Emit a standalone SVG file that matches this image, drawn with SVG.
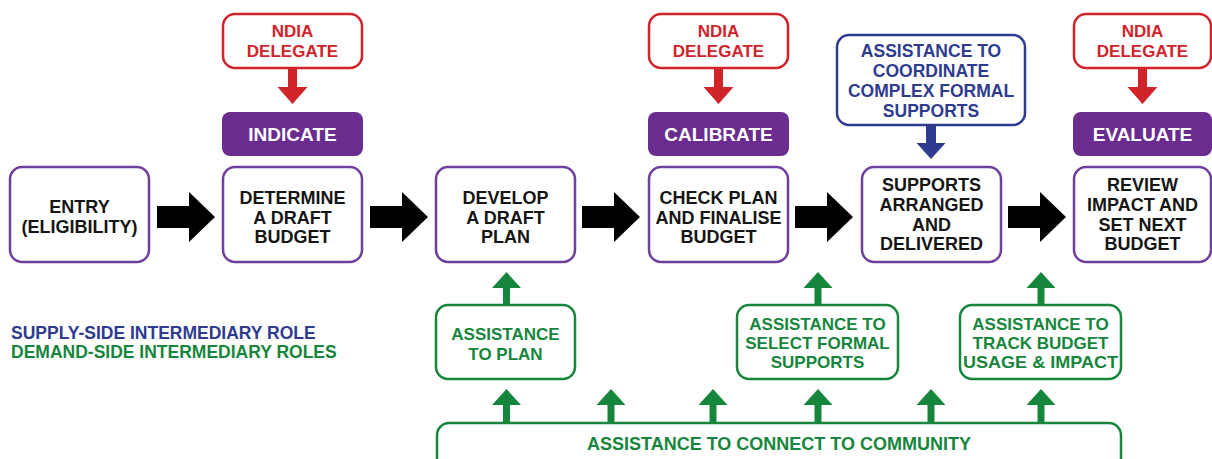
<svg xmlns="http://www.w3.org/2000/svg" width="1212" height="459" viewBox="0 0 1212 459">
<style>
text{font-family:"Liberation Sans",Arial,sans-serif;font-weight:bold;text-anchor:middle}
.step{fill:#fff;stroke:#6f3f9e;stroke-width:2.5}
.stept{fill:#151515;font-size:18px}
.ndia{fill:#fff;stroke:#d1232a;stroke-width:2.5}
.ndiat{fill:#d1232a;font-size:17px}
.phase{fill:#6a2d8f}
.phaset{fill:#fff;font-size:19px}
.sup{fill:#fff;stroke:#2e3b8f;stroke-width:2.5}
.supt{fill:#2e3b8f;font-size:17.5px}
.dem{fill:#fff;stroke:#16863c;stroke-width:2.5}
.demt{fill:#16863c;font-size:17px}
.blk{fill:#000}
.red{fill:#d1232a}
.blu{fill:#2e3b8f}
.grn{fill:#16863c}
.leg{text-anchor:start;font-size:17.5px}
</style>

<g id="legend">
<text class="leg" x="11" y="339" fill="#2e3b8f">SUPPLY-SIDE INTERMEDIARY ROLE</text>
<text class="leg" x="11" y="358" fill="#16863c">DEMAND-SIDE INTERMEDIARY ROLES</text>
</g>

<g id="ndia1"><rect class="ndia" x="223" y="14" width="139" height="54" rx="12"/>
<text class="ndiat" x="292.5" y="37">NDIA</text><text class="ndiat" x="292.5" y="57">DELEGATE</text></g>
<g id="ndia2"><rect class="ndia" x="649" y="14" width="139" height="54" rx="12"/>
<text class="ndiat" x="718.5" y="37">NDIA</text><text class="ndiat" x="718.5" y="57">DELEGATE</text></g>
<g id="ndia3"><rect class="ndia" x="1074" y="14" width="137" height="54" rx="12"/>
<text class="ndiat" x="1142.5" y="37">NDIA</text><text class="ndiat" x="1142.5" y="57">DELEGATE</text></g>

<g id="indicate"><rect class="phase" x="222" y="112" width="141" height="44" rx="8"/>
<text class="phaset" x="292.5" y="140.5">INDICATE</text></g>
<g id="calibrate"><rect class="phase" x="648" y="112" width="141" height="44" rx="8"/>
<text class="phaset" x="718.5" y="140.5">CALIBRATE</text></g>
<g id="evaluate"><rect class="phase" x="1073" y="112" width="139" height="44" rx="8"/>
<text class="phaset" x="1142.5" y="140.5">EVALUATE</text></g>

<g id="coordinate"><rect class="sup" x="837" y="35" width="188" height="90" rx="12"/>
<text class="supt" x="931" y="57">ASSISTANCE TO</text>
<text class="supt" x="931" y="77">COORDINATE</text>
<text class="supt" x="931" y="97">COMPLEX FORMAL</text>
<text class="supt" x="931" y="117">SUPPORTS</text></g>

<g id="entry"><rect class="step" x="10" y="167" width="139" height="95" rx="12"/>
<text class="stept" x="79.5" y="213">ENTRY</text>
<text class="stept" x="79.5" y="233">(ELIGIBILITY)</text></g>
<g id="determine"><rect class="step" x="223" y="167" width="139" height="95" rx="12"/>
<text class="stept" x="292.5" y="204">DETERMINE</text>
<text class="stept" x="292.5" y="224">A DRAFT</text>
<text class="stept" x="292.5" y="243">BUDGET</text></g>
<g id="develop"><rect class="step" x="436" y="167" width="139" height="95" rx="12"/>
<text class="stept" x="505.5" y="204">DEVELOP</text>
<text class="stept" x="505.5" y="224">A DRAFT</text>
<text class="stept" x="505.5" y="243">PLAN</text></g>
<g id="check"><rect class="step" x="649" y="167" width="139" height="95" rx="12"/>
<text class="stept" x="718.5" y="204">CHECK PLAN</text>
<text class="stept" x="718.5" y="224">AND FINALISE</text>
<text class="stept" x="718.5" y="243">BUDGET</text></g>
<g id="supports"><rect class="step" x="862" y="167" width="139" height="95" rx="12"/>
<text class="stept" x="931.5" y="191">SUPPORTS</text>
<text class="stept" x="931.5" y="211">ARRANGED</text>
<text class="stept" x="931.5" y="231">AND</text>
<text class="stept" x="931.5" y="250">DELIVERED</text></g>
<g id="review"><rect class="step" x="1074" y="167" width="137" height="95" rx="12"/>
<text class="stept" x="1142.5" y="191">REVIEW</text>
<text class="stept" x="1142.5" y="211">IMPACT AND</text>
<text class="stept" x="1142.5" y="231">SET NEXT</text>
<text class="stept" x="1142.5" y="250">BUDGET</text></g>

<g id="plan"><rect class="dem" x="436" y="305" width="139" height="74" rx="12"/>
<text class="demt" x="505.5" y="340">ASSISTANCE</text>
<text class="demt" x="505.5" y="360">TO PLAN</text></g>
<g id="select"><rect class="dem" x="737" y="305" width="161" height="74" rx="12"/>
<text class="demt" x="817.5" y="330">ASSISTANCE TO</text>
<text class="demt" x="817.5" y="349">SELECT FORMAL</text>
<text class="demt" x="817.5" y="368">SUPPORTS</text></g>
<g id="track"><rect class="dem" x="960" y="305" width="161" height="74" rx="12"/>
<text class="demt" x="1040.5" y="330">ASSISTANCE TO</text>
<text class="demt" x="1040.5" y="349">TRACK BUDGET</text>
<text class="demt" x="1040.5" y="368" textLength="155" lengthAdjust="spacingAndGlyphs">USAGE &amp; IMPACT</text></g>
<g id="community"><rect class="dem" x="437" y="423" width="684" height="62" rx="12"/>
<text class="demt" x="779" y="450" style="font-size:18px">ASSISTANCE TO CONNECT TO COMMUNITY</text></g>

<g id="connectors">
<path class="blk" d="M157,206H189V192L215,217L189,242V228H157Z"/>
<path class="blk" d="M370,206H402V192L428,217L402,242V228H370Z"/>
<path class="blk" d="M582,206H614V192L640,217L614,242V228H582Z"/>
<path class="blk" d="M795,206H827V192L853,217L827,242V228H795Z"/>
<path class="blk" d="M1008,206H1040V192L1066,217L1040,242V228H1008Z"/>
<path class="red" d="M288,68V87H277.5L292.5,104L307.5,87H297V68Z"/>
<path class="red" d="M714,68V87H703.5L718.5,104L733.5,87H723V68Z"/>
<path class="red" d="M1138,68V87H1127.5L1142.5,104L1157.5,87H1147V68Z"/>
<path class="blu" d="M926,125V143H916.5L931,159L945.5,143H936V125Z"/>
<path class="grn" d="M503,305V288H492L506.5,272L521,288H510V305Z"/>
<path class="grn" d="M814.5,305V288H803.5L818,272L832.5,288H821.5V305Z"/>
<path class="grn" d="M1037.5,305V288H1026.5L1041,272L1055.5,288H1044.5V305Z"/>
<path class="grn" d="M503,423V405H492L506.5,389L521,405H510V423Z"/>
<path class="grn" d="M607.5,423V405H596.5L611,389L625.5,405H614.5V423Z"/>
<path class="grn" d="M709.5,423V405H698.5L713,389L727.5,405H716.5V423Z"/>
<path class="grn" d="M814.5,423V405H803.5L818,389L832.5,405H821.5V423Z"/>
<path class="grn" d="M927.5,423V405H916.5L931,389L945.5,405H934.5V423Z"/>
<path class="grn" d="M1037.5,423V405H1026.5L1041,389L1055.5,405H1044.5V423Z"/>
</g>
</svg>
